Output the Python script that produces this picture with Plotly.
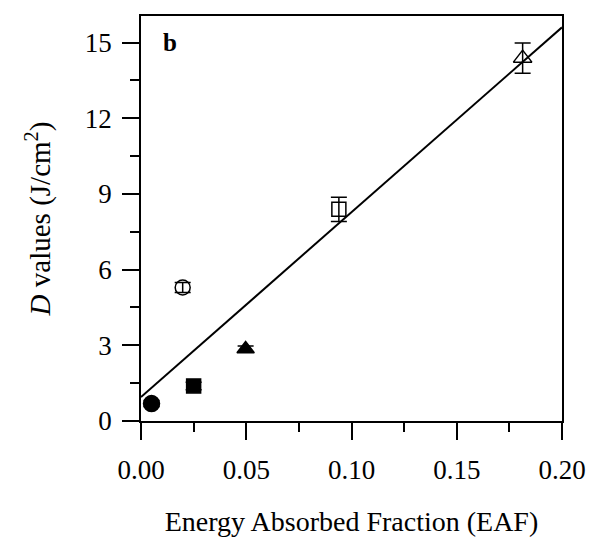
import plotly.graph_objects as go

# Data
eaf_x = [0.005, 0.0198, 0.025, 0.0497, 0.094, 0.1813]
d_y = [0.69, 5.29, 1.39, 2.85, 8.39, 14.38]
d_err = [0.12, 0.2, 0.15, 0.12, 0.48, 0.6]
symbols = ["circle", "circle-open", "square", "triangle-up", "square-open", "triangle-up-open"]
sizes = [16, 15, 14, 15, 14, 16]

fit_x = [0.0, 0.2]
fit_y = [0.95, 15.6]

x_ticks = [0.0, 0.05, 0.10, 0.15, 0.20]
x_ticklabels = ["0.00", "0.05", "0.10", "0.15", "0.20"]
y_ticks = [0, 3, 6, 9, 12, 15]

font = "Liberation Serif"

fig = go.Figure()
fig.add_trace(go.Scatter(x=fit_x, y=fit_y, mode="lines",
                         line=dict(color="black", width=2), showlegend=False,
                         cliponaxis=False))
for i in range(len(eaf_x)):
    fig.add_trace(go.Scatter(
        x=[eaf_x[i]], y=[d_y[i]], mode="markers",
        marker=dict(symbol=symbols[i], size=sizes[i], color="black",
                    line=dict(color="black", width=1.5)),
        error_y=dict(type="data", array=[d_err[i]], visible=True,
                     color="black", thickness=1.5, width=8),
        showlegend=False, cliponaxis=False))

axis_common = dict(showline=True, linecolor="black", linewidth=1.5, mirror=True,
                   showgrid=False, zeroline=False, ticks="outside",
                   tickcolor="black", tickwidth=1.5, ticklen=17, automargin=False,
                   tickfont=dict(family=font, size=27, color="black"))

fig.update_xaxes(range=[0, 0.2], tickvals=x_ticks, ticktext=x_ticklabels,
                 ticklabelstandoff=7,
                 minor=dict(ticks="outside", dtick=0.025, tick0=0, ticklen=9,
                            tickcolor="black", tickwidth=1.5),
                 title=dict(text="Energy Absorbed Fraction (EAF)",
                            font=dict(family=font, size=28, color="black"),
                            standoff=28),
                 **axis_common)
fig.update_yaxes(range=[0, 16.05], tickvals=y_ticks,
                 ticklabelstandoff=5,
                 minor=dict(ticks="outside", dtick=1.5, tick0=0, ticklen=9,
                            tickcolor="black", tickwidth=1.5),
                 title=dict(text="<i>D</i> values (J/cm<sup>2</sup>)",
                            font=dict(family=font, size=29, color="black"),
                            standoff=26),
                 **axis_common)

fig.add_annotation(x=0.047, y=0.972, xref="paper", yref="paper", text="<b>b</b>",
                   showarrow=False, xanchor="left", yanchor="top",
                   font=dict(family=font, size=25, color="black"))

fig.update_layout(width=598, height=537, margin=dict(l=141, r=36, t=16, b=116),
                  plot_bgcolor="white", paper_bgcolor="white")

fig.write_html("out.html")
